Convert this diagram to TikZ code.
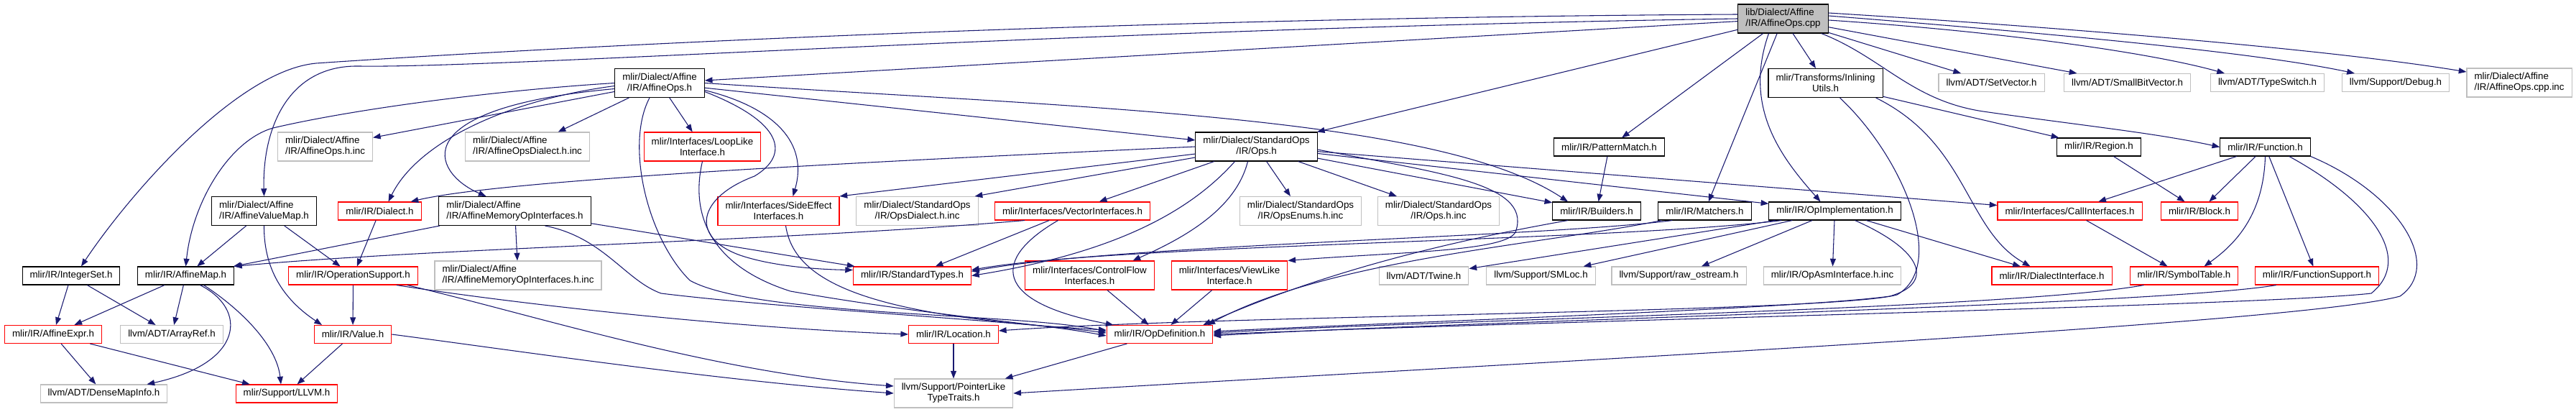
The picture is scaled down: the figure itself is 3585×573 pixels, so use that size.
\documentclass[tikz,border=0pt]{standalone}
\usepackage{fontspec}
\setmainfont{Liberation Sans}
\usetikzlibrary{arrows.meta,calc}
\definecolor{edgec}{HTML}{191970}
\definecolor{grayb}{HTML}{BFBFBF}
\definecolor{redb}{HTML}{FF0000}
\newcommand\nodefont{\fontsize{10}{11.25}\selectfont}
\tikzset{
  base/.style={rectangle, font=\nodefont, inner xsep=7.9pt, inner ysep=0pt, minimum height=18.75pt, align=center, line width=0.8pt},
  nb/.style={base, draw=black},
  nr/.style={base, draw=redb},
  ng/.style={base, draw=grayb},
  nroot/.style={base, draw=black, fill=grayb},
  tall/.style={minimum height=30pt},
  e/.style={draw=edgec, line width=0.8pt, -{Triangle[length=8pt,width=6pt]}}
}
\begin{document}
\begin{tikzpicture}[x=0.75pt,y=-0.75pt]
\fill[white] (0,0) rectangle (3585,573);
\useasboundingbox (0,0) rectangle (3585,573);
% row 0
\node[nroot,tall,align=left] (root) at (2481.5,26) {lib/Dialect/Affine\\/IR/AffineOps.cpp};
% row 1
\node[nb,tall] (aopsh) at (918,115.5) {mlir/Dialect/Affine\\/IR/AffineOps.h};
\node[nb,tall] (inlining) at (2540.5,115.5) {mlir/Transforms/Inlining\\Utils.h};
\node[ng] (setvector) at (2771.5,115) {llvm/ADT/SetVector.h};
\node[ng] (smallbv) at (2960.5,115) {llvm/ADT/SmallBitVector.h};
\node[ng] (typeswitch) at (3155.5,115) {llvm/ADT/TypeSwitch.h};
\node[ng] (debug) at (3334,115) {llvm/Support/Debug.h};
\node[ng,tall,align=left] (cppinc) at (3506,115) {mlir/Dialect/Affine\\/IR/AffineOps.cpp.inc};
% row 2
\node[ng,tall,align=left] (aopshinc) at (452.5,204) {mlir/Dialect/Affine\\/IR/AffineOps.h.inc};
\node[ng,tall,align=left] (aopsdinc) at (734,204) {mlir/Dialect/Affine\\/IR/AffineOpsDialect.h.inc};
\node[nr,tall] (looplike) at (977.5,204) {mlir/Interfaces/LoopLike\\Interface.h};
\node[nb,tall] (stdopsh) at (1748.5,204) {mlir/Dialect/StandardOps\\/IR/Ops.h};
\node[nb] (patternmatch) at (2239.5,204.5) {mlir/IR/PatternMatch.h};
\node[nb] (region) at (2921,204.5) {mlir/IR/Region.h};
\node[nb] (function) at (3152.5,204.5) {mlir/IR/Function.h};
% row 3
\node[nb,tall,align=left] (avm) at (367.5,293.5) {mlir/Dialect/Affine\\/IR/AffineValueMap.h};
\node[nr] (dialect) at (528.5,293.5) {mlir/IR/Dialect.h};
\node[nb,tall,align=left] (amoi) at (716.5,293.5) {mlir/Dialect/Affine\\/IR/AffineMemoryOpInterfaces.h};
\node[nr,tall] (sideeffect) at (1083.5,293.5) {mlir/Interfaces/SideEffect\\Interfaces.h};
\node[ng,tall] (opsdinc) at (1276.5,293.5) {mlir/Dialect/StandardOps\\/IR/OpsDialect.h.inc};
\node[nr] (vector) at (1492.5,293.5) {mlir/Interfaces/VectorInterfaces.h};
\node[ng,tall] (opsenums) at (1810,293.5) {mlir/Dialect/StandardOps\\/IR/OpsEnums.h.inc};
\node[ng,tall] (opshinc) at (2002,293.5) {mlir/Dialect/StandardOps\\/IR/Ops.h.inc};
\node[nb] (builders) at (2222,293.5) {mlir/IR/Builders.h};
\node[nb] (matchers) at (2372.5,293.5) {mlir/IR/Matchers.h};
\node[nb] (opimpl) at (2553.5,293.5) {mlir/IR/OpImplementation.h};
\node[nr] (callif) at (2880.5,293.5) {mlir/Interfaces/CallInterfaces.h};
\node[nr] (block) at (3061,293.5) {mlir/IR/Block.h};
% row 4
\node[nb] (integerset) at (99,383.5) {mlir/IR/IntegerSet.h};
\node[nb] (affinemap) at (258.5,383.5) {mlir/IR/AffineMap.h};
\node[nr] (opsupport) at (491.5,383.5) {mlir/IR/OperationSupport.h};
\node[ng,tall,align=left] (amoiinc) at (721,383) {mlir/Dialect/Affine\\/IR/AffineMemoryOpInterfaces.h.inc};
\node[nr] (stdtypes) at (1269.5,383.5) {mlir/IR/StandardTypes.h};
\node[nr,tall] (controlflow) at (1516.5,383) {mlir/Interfaces/ControlFlow\\Interfaces.h};
\node[nr,tall] (viewlike) at (1711,383) {mlir/Interfaces/ViewLike\\Interface.h};
\node[ng] (twine) at (1981.5,383.5) {llvm/ADT/Twine.h};
\node[ng] (smloc) at (2144.5,383.5) {llvm/Support/SMLoc.h};
\node[ng] (rawostream) at (2336.5,383.5) {llvm/Support/raw\_ostream.h};
\node[ng] (opasminc) at (2550,383.5) {mlir/IR/OpAsmInterface.h.inc};
\node[nr] (dialectif) at (2855.5,383.5) {mlir/IR/DialectInterface.h};
\node[nr] (symboltable) at (3039.5,383.5) {mlir/IR/SymbolTable.h};
\node[nr] (funcsupport) at (3224.5,383.5) {mlir/IR/FunctionSupport.h};
% row 5
\node[nr] (affineexpr) at (74,465) {mlir/IR/AffineExpr.h};
\node[ng] (arrayref) at (239,465) {llvm/ADT/ArrayRef.h};
\node[nr] (value) at (491,465) {mlir/IR/Value.h};
\node[nr] (location) at (1327,465) {mlir/IR/Location.h};
\node[nr] (opdef) at (1614,465) {mlir/IR/OpDefinition.h};
% row 6
\node[ng] (densemap) at (144.5,547.5) {llvm/ADT/DenseMapInfo.h};
\node[nr] (llvmh) at (399,547.5) {mlir/Support/LLVM.h};
\node[ng,tall] (pointerlike) at (1327,547) {llvm/Support/PointerLike\\TypeTraits.h};

% ---- edges from root
\draw[e] (root) -- (aopsh);
\draw[e] (root) -- (inlining);
\draw[e] (root) -- (setvector);
\draw[e] (root) -- (smallbv);
\draw[e] ($(root.east)+(0,2)$) .. controls (2800,45) and (3000,75) .. ($(typeswitch.north west)+(20,0)$);
\draw[e] ($(root.east)+(0,-4)$) .. controls (2900,50) and (3150,75) .. ($(debug.north west)+(18,0)$);
\draw[e] ($(root.east)+(0,-8)$) .. controls (2900,40) and (3250,70) .. ($(cppinc.west)+(0,-15)$);
\draw[e] ($(root.south east)+(-10,0)$) .. controls (2620,80) and (2660,140) .. (2760,155) .. controls (2900,175) and (3000,185) .. (function.west);
\draw[e] (root) -- (stdopsh);
\draw[e] (root) -- (patternmatch);
\draw[e] (root) -- (matchers);
\draw[e] ($(root.south)+(-20,0)$) .. controls (2425,150) and (2480,220) .. ($(opimpl.north)+(-20,0)$);
\draw[e] (root.west) .. controls (1500,40) and (700,95) .. (500,92) .. controls (400,90) and (365,180) .. (avm.north);
\draw[e] ($(root.west)+(0,-6)$) .. controls (1500,25) and (700,70) .. (440,88) .. controls (330,98) and (180,270) .. ($(integerset.north)+(14,0)$);

% ---- AffineOps.h
\draw[e] (aopsh) -- (aopshinc);
\draw[e] (aopsh) -- (aopsdinc);
\draw[e] (aopsh) -- (looplike);
\draw[e] ($(aopsh.west)+(0,8)$) .. controls (560,150) and (600,240) .. ($(amoi.north)+(-40,0)$);
\draw[e] ($(aopsh.west)+(0,4)$) .. controls (700,140) and (580,200) .. ($(dialect.north)+(12,0)$);
\draw[e] (aopsh.west) .. controls (700,125) and (500,150) .. (380,178) .. controls (320,195) and (268,280) .. (affinemap.north);
\draw[e] (aopsh.east) .. controls (1500,150) and (2000,160) .. ($(builders.north)+(-40,0)$);
\draw[e] (aopsh) -- (stdopsh);
\draw[e] ($(aopsh.south)+(-14,0)$) .. controls (870,200) and (900,330) .. (960,390) .. controls (1050,440) and (1420,435) .. ($(opdef.west)+(0,-4)$);
\draw[e] ($(aopsh.east)+(0,10)$) .. controls (1080,150) and (1125,200) .. ($(sideeffect.north)+(20,0)$);
\draw[e] ($(aopsh.east)+(0,12)$) .. controls (1090,170) and (1100,215) .. (1050,245) .. controls (970,275) and (960,330) .. (1030,355) .. controls (1080,372) and (1150,375) .. ($(stdtypes.west)+(0,-8)$);

% ---- AffineValueMap.h, Dialect.h
\draw[e] (avm) -- (affinemap);
\draw[e] (avm) -- (opsupport);
\draw[e] (avm.south) .. controls (367,380) and (400,420) .. ($(value.north)+(-43,0)$);
\draw[e] (dialect) -- (opsupport);

% ---- AffineMemoryOpInterfaces.h
\draw[e] (amoi) -- (amoiinc);
\draw[e] (amoi) -- (affinemap);
\draw[e] ($(amoi.south)+(42,0)$) .. controls (840,330) and (870,390) .. (920,408) .. controls (1100,430) and (1400,445) .. ($(opdef.west)+(0,-2)$);
\draw[e] (amoi) -- (stdtypes);

% ---- LoopLike, SideEffect
\draw[e] (looplike.south) .. controls (960,300) and (990,370) .. (1100,405) .. controls (1300,440) and (1450,450) .. ($(opdef.west)+(0,2)$);
\draw[e] ($(sideeffect.south)+(10,0)$) .. controls (1105,390) and (1200,440) .. ($(opdef.west)+(0,-6)$);

% ---- StandardOps/IR/Ops.h
\draw[e] (stdopsh.west) .. controls (1200,225) and (700,250) .. ($(dialect.north east)+(-15,0)$);
\draw[e] (stdopsh) -- (sideeffect.north east);
\draw[e] (stdopsh) -- ($(opsdinc.north east)+(-5,0)$);
\draw[e] (stdopsh) -- (vector);
\draw[e] ($(stdopsh.south)+(-30,0)$) .. controls (1660,290) and (1560,350) .. (stdtypes.east);
\draw[e] ($(stdopsh.south)+(-12,0)$) .. controls (1720,290) and (1650,330) .. ($(controlflow.north)+(60,0)$);
\draw[e] (stdopsh) -- (opsenums);
\draw[e] (stdopsh) -- (opshinc);
\draw[e] (stdopsh) -- (builders);
\draw[e] ($(stdopsh.east)+(0,4)$) .. controls (2000,240) and (2130,255) .. (2110,320) .. controls (2105,350) and (1950,350) .. (viewlike.north east);
\draw[e] (stdopsh) -- (opimpl);
\draw[e] (stdopsh) -- (callif);

% ---- PatternMatch, InliningUtils, Region
\draw[e] (patternmatch) -- (builders);
\draw[e] (inlining) -- (region);
\draw[e] ($(inlining.south east)+(-10,0)$) .. controls (2740,200) and (2735,320) .. ($(dialectif.north)+(-30,0)$);
\draw[e] ($(inlining.south)+(20,0)$) .. controls (2650,220) and (2710,370) .. (2640,410) .. controls (2550,435) and (1700,438) .. ($(location.east)+(0,-5)$);
\draw[e] (region) -- (block);

% ---- Function.h
\draw[e] (function) -- (callif);
\draw[e] (function) -- (block);
\draw[e] (function.south) .. controls (3150,300) and (3110,340) .. ($(symboltable.north)+(28,0)$);
\draw[e] (function) -- (funcsupport);
\draw[e] ($(function.south east)+(-30,0)$) .. controls (3300,280) and (3360,360) .. (3300,408) .. controls (3150,425) and (2200,445) .. (opdef.east);
\draw[e] (function.south east) .. controls (3340,270) and (3400,370) .. (3340,412) .. controls (3200,450) and (2200,500) .. (pointerlike.east);
\draw[e] (callif) -- (symboltable);

% ---- OpImplementation.h
\draw[e] (opimpl) -- (opasminc);
\draw[e] (opimpl) -- (dialectif);
\draw[e] (opimpl) -- (rawostream);
\draw[e] (opimpl) -- (smloc);
\draw[e] (opimpl) -- (twine);
\draw[e] ($(opimpl.south west)+(18,0)$) .. controls (2250,335) and (1550,340) .. ($(stdtypes.east)+(0,-8)$);
\draw[e] ($(opimpl.south)+(28,0)$) .. controls (2680,350) and (2690,395) .. (2630,412) .. controls (2500,430) and (1900,450) .. ($(opdef.east)+(0,-4)$);

% ---- Matchers.h, Builders.h
\draw[e] ($(matchers.south west)+(20,0)$) .. controls (2150,330) and (1550,340) .. ($(stdtypes.east)+(0,-6)$);
\draw[e] ($(matchers.south west)+(5,0)$) .. controls (2150,340) and (1850,360) .. ($(opdef.north east)+(-8,0)$);
\draw[e] ($(builders.south)+(-40,0)$) .. controls (2050,330) and (1860,370) .. ($(opdef.north east)+(-14,0)$);

% ---- VectorInterfaces.h
\draw[e] ($(vector.south west)+(42,0)$) .. controls (1100,335) and (600,345) .. (affinemap.north east);
\draw[e] (vector) -- (stdtypes);
\draw[e] ($(vector.south)+(-20,0)$) .. controls (1380,360) and (1380,420) .. ($(opdef.north west)+(10,0)$);

% ---- ControlFlow, ViewLike, SymbolTable, FunctionSupport
\draw[e] (controlflow) -- (opdef);
\draw[e] (viewlike) -- (opdef);
\draw[e] ($(symboltable.south west)+(20,0)$) .. controls (2800,430) and (2000,445) .. ($(opdef.east)+(0,-2)$);
\draw[e] ($(funcsupport.south west)+(30,0)$) .. controls (3000,425) and (2000,448) .. ($(opdef.east)+(0,2)$);

% ---- OpDefinition, Location
\draw[e] (opdef) -- (pointerlike);
\draw[e] (location) -- (pointerlike);

% ---- OperationSupport, Value
\draw[e] (opsupport) -- (value);
\draw[e] ($(opsupport.south east)+(-30,0)$) .. controls (700,420) and (1000,455) .. (location.west);
\draw[e] ($(opsupport.south east)+(-15,0)$) .. controls (750,440) and (1000,520) .. ($(pointerlike.west)+(0,-10)$);
\draw[e] (value.east) .. controls (700,485) and (1000,530) .. (pointerlike.west);
\draw[e] (value) -- (llvmh);

% ---- AffineMap, IntegerSet, AffineExpr
\draw[e] (affinemap) -- (affineexpr);
\draw[e] (affinemap) -- (arrayref);
\draw[e] ($(affinemap.south)+(20,0)$) .. controls (345,430) and (340,505) .. ($(densemap.north)+(60,0)$);
\draw[e] ($(affinemap.south)+(25,0)$) .. controls (335,430) and (385,480) .. ($(llvmh.north)+(-8,0)$);
\draw[e] (integerset) -- (affineexpr);
\draw[e] (integerset) -- (arrayref);
\draw[e] (affineexpr) -- (densemap);
\draw[e] (affineexpr) -- (llvmh);
\end{tikzpicture}
\end{document}
